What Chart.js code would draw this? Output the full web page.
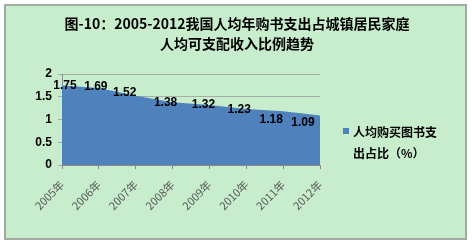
<!DOCTYPE html>
<html>
<head>
<meta charset="utf-8">
<script src="https://cdn.jsdelivr.net/npm/chart.js@4/dist/chart.umd.min.js"></script>
<style>
html,body{margin:0;padding:0;background:#fff;}
canvas{display:block;}
</style>
</head>
<body>
<canvas id="c" width="472" height="246"></canvas>
<script>
// ---- data ----
const categories = ['2005年','2006年','2007年','2008年','2009年','2010年','2011年','2012年'];
const shareValues = [1.75, 1.69, 1.52, 1.38, 1.32, 1.23, 1.18, 1.09];
const yTicks = [0, 0.5, 1, 1.5, 2];
const seriesName = ['人均购买图书支', '出占比（%）'];
const titleLines = ['图-10：2005-2012我国人均年购书支出占城镇居民家庭', '人均可支配收入比例趋势'];

// ---- styles ----
const BG = '#c7edcc';
const AREA = '#4f81bd';
const CJK = '"Noto Sans CJK SC","Noto Sans",sans-serif';
// small label nudges (style only), in px relative to each point
const labelNudgeX = [3,-3,-11,-7,-6,-7,-12,-17];
const labelNudgeY = [0,-1,-3,0,0,1,8,7];

const decor = {
  id: 'decor',
  beforeDraw(chart) {
    const ctx = chart.ctx;
    ctx.save();
    ctx.fillStyle = '#ffffff';
    ctx.fillRect(0, 0, chart.width, chart.height);
    ctx.fillStyle = BG;
    ctx.fillRect(5, 5, 461, 234);
    ctx.strokeStyle = '#a3a9a3';
    ctx.lineWidth = 2;
    ctx.strokeRect(5, 5, 461, 234);
    ctx.restore();
  },
  afterDraw(chart) {
    const ctx = chart.ctx;
    ctx.save();
    // title
    ctx.fillStyle = '#000';
    ctx.font = 'bold 14px ' + CJK;
    ctx.textAlign = 'center';
    ctx.textBaseline = 'middle';
    ctx.fillText(titleLines[0], 237, 24);
    ctx.fillText(titleLines[1], 237, 44);
    // data labels
    const meta = chart.getDatasetMeta(0);
    ctx.font = 'bold 12px "Liberation Sans",Arial,sans-serif';
    meta.data.forEach((pt, i) => {
      const v = chart.data.datasets[0].data[i];
      ctx.fillText(v.toFixed(2), pt.x + labelNudgeX[i], pt.y + labelNudgeY[i]);
    });
    // legend
    ctx.fillStyle = AREA;
    ctx.fillRect(343, 128, 6, 6);
    ctx.fillStyle = '#000';
    ctx.textAlign = 'left';
    ctx.font = 'bold 12px ' + CJK;
    ctx.fillText(seriesName[0], 353, 132);
    ctx.fillText(seriesName[1], 353, 153);
    ctx.restore();
  }
};

new Chart(document.getElementById('c'), {
  type: 'line',
  data: {
    labels: categories,
    datasets: [{
      label: seriesName.join(''),
      data: shareValues,
      fill: 'origin',
      backgroundColor: AREA,
      borderWidth: 0,
      borderColor: AREA,
      pointRadius: 0,
      tension: 0
    }]
  },
  options: {
    responsive: false,
    animation: false,
    layout: { padding: { left: 5, right: 152, top: 74, bottom: 0 } },
    plugins: { legend: { display: false }, title: { display: false }, tooltip: { enabled: false } },
    scales: {
      x: {
        offset: false,
        grid: { drawOnChartArea: false, drawTicks: true, tickLength: 4, color: '#8a8a8a' },
        border: { color: '#8a8a8a', width: 1 },
        ticks: {
          minRotation: 45, maxRotation: 45, padding: 9,
          color: '#595959',
          font: { family: CJK, size: 11 }
        },
        afterFit(s) { s.height = 81; }
      },
      y: {
        min: 0, max: 2,
        afterBuildTicks(s) { s.ticks = yTicks.map(v => ({ value: v })); },
        grid: { color: '#a8aca8', tickLength: 4, drawTicks: true },
        border: { color: '#8a8a8a', width: 1 },
        ticks: {
          color: '#000', padding: 6,
          font: { family: '"Liberation Sans",Arial,sans-serif', size: 12, weight: 'bold' },
          callback: v => String(v)
        },
        afterFit(s) { s.width = 57; }
      }
    }
  },
  plugins: [decor]
});
</script>
</body>
</html>
